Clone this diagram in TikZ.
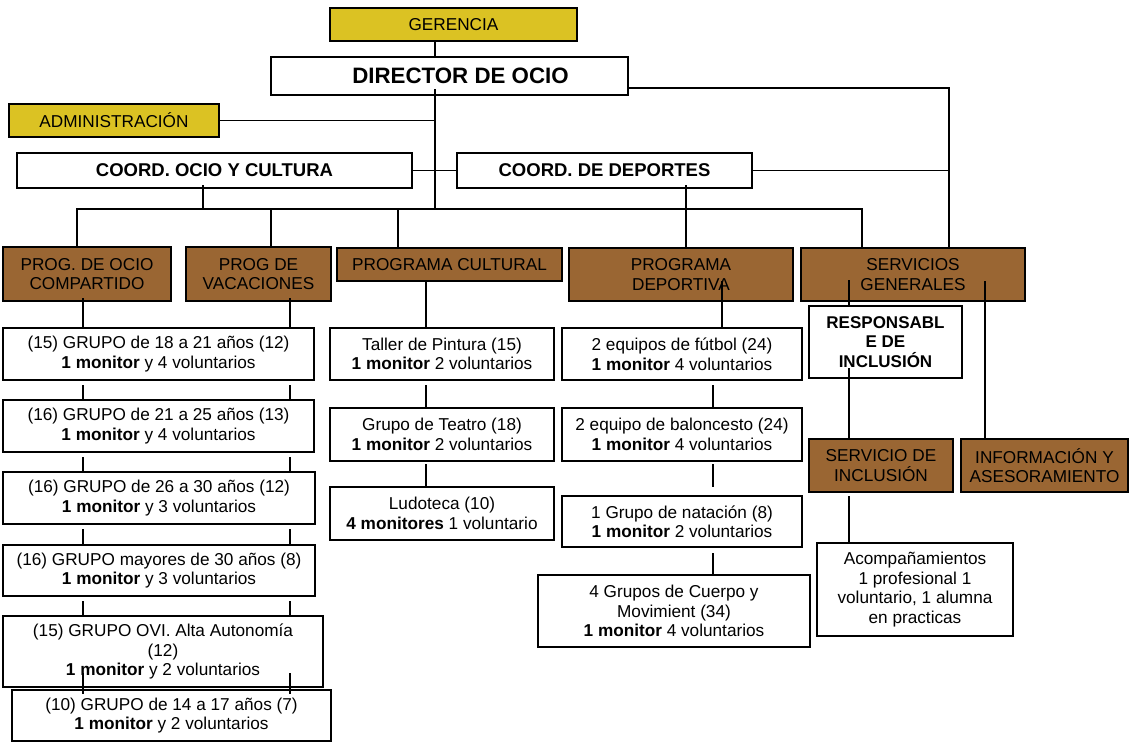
\documentclass[tikz,border=0pt]{standalone}
\usepackage{fontspec}
\setmainfont{Liberation Sans}
\definecolor{gold}{HTML}{DBC223}
\definecolor{brownbox}{HTML}{9A6633}
\newcommand\bx[7]{\node[#6, minimum width={#4-#2}, minimum height={#5-#3}] (#1) at ({(#2+#4)/2},{-(#3+#5)/2}) {#7};}
\begin{document}
\begin{tikzpicture}[x=1pt,y=1pt,
  base/.style={draw=black, line width=2pt, inner sep=0pt, align=center, font=\fontsize{17.2}{19.5}\selectfont},
  wbox/.style={base, fill=white},
  ybox/.style={base, fill=gold},
  bbox/.style={base, fill=brownbox},
  bigb/.style={wbox, font=\fontsize{22.3}{26}\selectfont\bfseries},
  medb/.style={wbox, font=\fontsize{18.5}{22}\selectfont\bfseries},
  respb/.style={wbox, font=\fontsize{17}{19.5}\selectfont\bfseries},
  conn/.style={draw=black, line width=1.8pt}]
\useasboundingbox (0,0) rectangle (1130,-742);
\fill[white] (0,0) rectangle (1130,-742);
% column x positions
\coordinate (cx) at (435,0);
\coordinate (cr) at (949,0);
\coordinate (bus) at (0,-209);
\coordinate (cOc) at (203,0);
\coordinate (cDe) at (686,0);
\coordinate (d1) at (77,0);
\coordinate (d2) at (271,0);
\coordinate (d3) at (398,0);
\coordinate (d4) at (862,0);
\coordinate (l1) at (83,0);
\coordinate (l2) at (290,0);
\coordinate (mm) at (426,0);
\coordinate (r1) at (722,0);
\coordinate (r2) at (713,0);
\coordinate (s1) at (849,0);
\coordinate (s2) at (985,0);
% top
\bx{GER}{330}{8}{577}{41}{ybox}{GERENCIA}
\bx{DIR}{271}{57}{628}{95}{bigb}{\hspace*{22pt}DIRECTOR DE OCIO}
\bx{ADM}{9}{104}{219}{137}{ybox}{ADMINISTRACIÓN}
\bx{COC}{17}{153}{412}{188}{medb}{COORD. OCIO Y CULTURA}
\bx{CDE}{457}{153}{752}{188}{medb}{COORD. DE DEPORTES}
% program row
\bx{PO}{3}{247}{171}{301}{bbox}{PROG. DE OCIO\\COMPARTIDO}
\bx{PV}{186}{247}{331}{301}{bbox}{PROG DE\\VACACIONES}
\bx{PC}{337}{248}{562}{281}{bbox}{PROGRAMA CULTURAL}
\bx{PD}{569}{248}{793}{301}{bbox}{PROGRAMA\\DEPORTIVA}
\bx{SERV}{801}{248}{1025}{301}{bbox}{SERVICIOS\\GENERALES}
% left column
\bx{G1}{3}{328}{314}{380}{wbox}{(15) GRUPO de 18 a 21 años (12)\\\textbf{1 monitor} y 4 voluntarios}
\bx{G2}{3}{400}{314}{452}{wbox}{(16) GRUPO de 21 a 25 años (13)\\\textbf{1 monitor} y 4 voluntarios}
\bx{G3}{3}{472}{315}{524}{wbox}{(16) GRUPO de 26 a 30 años (12)\\\textbf{1 monitor} y 3 voluntarios}
\bx{G4}{3}{545}{315}{596}{wbox}{(16) GRUPO mayores de 30 años (8)\\\textbf{1 monitor} y 3 voluntarios}
\bx{G5}{3}{616}{323}{687}{wbox}{(15) GRUPO OVI. Alta Autonomía\\(12)\\\textbf{1 monitor} y 2 voluntarios}
\bx{G6}{12}{690}{331}{741}{wbox}{(10) GRUPO de 14 a 17 años (7)\\\textbf{1 monitor} y 2 voluntarios}
% middle column
\bx{T1}{330}{328}{554}{380}{wbox}{Taller de Pintura (15)\\\textbf{1 monitor} 2 voluntarios}
\bx{T2}{330}{408}{554}{461}{wbox}{Grupo de Teatro (18)\\\textbf{1 monitor} 2 voluntarios}
\bx{T3}{330}{487}{554}{540}{wbox}{Ludoteca (10)\\\textbf{4 monitores} 1 voluntario}
% sports column
\bx{F1}{562}{328}{802}{380}{wbox}{2 equipos de fútbol (24)\\\textbf{1 monitor} 4 voluntarios}
\bx{F2}{562}{408}{802}{461}{wbox}{2 equipo de baloncesto (24)\\\textbf{1 monitor} 4 voluntarios}
\bx{F3}{562}{496}{802}{547}{wbox}{1 Grupo de natación (8)\\\textbf{1 monitor} 2 voluntarios}
\bx{F4}{538}{575}{810}{647}{wbox}{4 Grupos de Cuerpo y\\Movimient (34)\\\textbf{1 monitor} 4 voluntarios}
% services
\bx{RESP}{809}{306}{962}{378}{respb}{RESPONSABL\\E DE\\INCLUSIÓN}
\bx{SI}{809}{439}{953}{492}{bbox}{SERVICIO DE\\INCLUSIÓN}
\bx{INF}{961}{439}{1128}{492}{bbox}{INFORMACIÓN Y\\ASESORAMIENTO}
\bx{ACO}{817}{543}{1013}{636}{wbox}{Acompañamientos\\1 profesional 1\\voluntario, 1 alumna\\en practicas}
% connectors
\draw[conn] (GER.south -| cx) -- (DIR.north -| cx);
\draw[conn] ([yshift=7]DIR.south -| cx) -- (cx |- bus);
\draw[conn] (ADM.east) -- (ADM.east -| cx);
\draw[conn] (COC.east) -- (CDE.west);
\draw[conn] ([yshift=-12]DIR.east) -- ([yshift=-12]DIR.east -| cr) -- (SERV.north -| cr);
\draw[conn] (CDE.east) -- (CDE.east -| cr);
\draw[conn] ([yshift=4]COC.south -| cOc) -- (cOc |- bus);
\draw[conn] (PO.north -| d1) -- (d1 |- bus) -- (d4 |- bus) -- (SERV.north -| d4);
\draw[conn] (d2 |- bus) -- (PV.north -| d2);
\draw[conn] (d3 |- bus) -- (PC.north -| d3);
\draw[conn] ([yshift=4]CDE.south -| cDe) -- (PD.north -| cDe);
% left column links
\draw[conn] ([yshift=4]PO.south -| l1) -- (G1.north -| l1);
\draw[conn] ([yshift=4]PV.south -| l2) -- (G1.north -| l2);
\foreach \a/\b in {G1/G2,G2/G3,G3/G4,G4/G5}{
  \draw[conn] ([yshift=-4]\a.south -| l1) -- (\b.north -| l1);
  \draw[conn] ([yshift=-4]\a.south -| l2) -- (\b.north -| l2);
}
\draw[conn] ([yshift=15]G5.south -| l1) -- ([yshift=-5]G6.north -| l1);
\draw[conn] ([yshift=15]G5.south -| l2) -- ([yshift=-5]G6.north -| l2);
% middle
\draw[conn] (PC.south -| mm) -- (T1.north -| mm);
\draw[conn] ([yshift=-4]T1.south -| mm) -- (T2.north -| mm);
\draw[conn] ([yshift=-2]T2.south -| mm) -- (T3.north -| mm);
% sports
\draw[conn] ([yshift=21]PD.south -| r1) -- (F1.north -| r1);
\draw[conn] ([yshift=-4]F1.south -| r2) -- (F2.north -| r2);
\draw[conn] ([yshift=-2]F2.south -| r2) -- ([yshift=8]F3.north -| r2);
\draw[conn] ([yshift=-5]F3.south -| r2) -- (F4.north -| r2);
% services
\draw[conn] ([yshift=22]SERV.south -| s1) -- (RESP.north -| s1);
\draw[conn] ([yshift=11]RESP.south -| s1) -- (SI.north -| s1);
\draw[conn] ([yshift=21]SERV.south -| s2) -- (INF.north -| s2);
\draw[conn] ([yshift=-3]SI.south -| s1) -- (ACO.north -| s1);
\end{tikzpicture}
\end{document}
